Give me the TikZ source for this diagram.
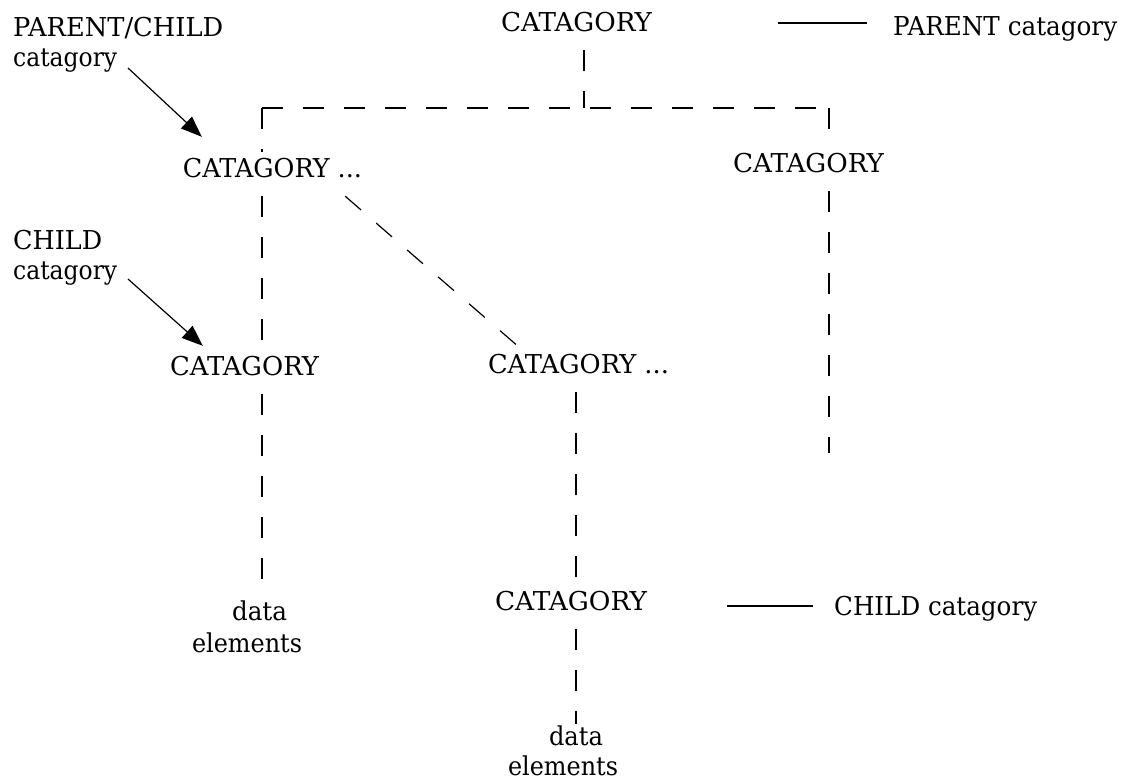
\documentclass[tikz,border=0pt]{standalone}
\usepackage{fontspec}
\setmainfont{DejaVu Serif}
\usetikzlibrary{arrows.meta}
\newcommand{\fw}[2]{\resizebox{#1pt}{\height}{#2}}
\begin{document}
\begin{tikzpicture}[x=1pt,y=-1pt, font=\fontsize{26}{30}\selectfont,
 lbl/.style={inner xsep=0pt, inner ysep=6pt, text height=19pt, text depth=13pt, anchor=base},
 txt/.style={inner sep=0pt, anchor=base west},
 dat/.style={inner sep=0pt, anchor=base},
 dl/.style={line width=1.2pt, dash pattern=on 21pt off 20pt},
 leg/.style={line width=1.2pt},
 arr/.style={line width=1.2pt, -{Triangle[length=21pt,width=16pt]}}]
\useasboundingbox[fill=white] (0,0) rectangle (1124,780);
% nodes
\node[lbl] (T) at (576.5,31) {\fw{151}{CATAGORY}};
\node[txt] (P) at (893,35) {\fw{224}{PARENT catagory}};
\node[txt] (PC) at (13,36) {\begin{tabular}[t]{@{}l@{}}\fw{210}{PARENT/CHILD}\\\fw{104}{catagory}\end{tabular}};
\node[lbl] (A) at (272.5,177) {\fw{179}{CATAGORY ...}};
\node[lbl] (R) at (808.5,172) {\fw{151}{CATAGORY}};
\node[txt] (CC) at (13,249) {\begin{tabular}[t]{@{}l@{}}\fw{89}{CHILD}\\\fw{104}{catagory}\end{tabular}};
\node[lbl] (C) at (244.5,375) {\fw{149}{CATAGORY}};
\node[lbl] (M) at (578.5,373) {\fw{181}{CATAGORY ...}};
\node[lbl] (B) at (571,610) {\fw{152}{CATAGORY}};
\node[txt] (CL) at (834,615) {\fw{203}{CHILD catagory}};
\node[dat] (D1) at (247,620) {\begin{tabular}[t]{@{}c@{}}\hspace*{25pt}\fw{55}{data}\\[2pt]\fw{110}{elements}\end{tabular}};
\node[dat] (D2) at (563,745) {\begin{tabular}[t]{@{}c@{}}\hspace*{26pt}\fw{54}{data}\\\fw{110}{elements}\end{tabular}};
% coordinates
\coordinate (jL) at (262,108);
\coordinate (jT) at (584,108);
\coordinate (jR) at (829,108);
\coordinate (eR) at (829,453);
\coordinate (xM) at (576,390);
\coordinate (lg1) at (778,23);
\coordinate (lg2) at (727,606);
\coordinate (a1) at (128,68);
\coordinate (a2) at (128,279);
% dashed connectors
\draw[dl] (T.south -| jT) -- (jT);
\draw[dl] (jL) -- (jR);
\draw[dl] (jL) -- (A.north -| jL);
\draw[dl] (A.south -| jL) -- (C.north -| jL);
\draw[dl] (C.south -| jL) -- (D1.north -| jL);
\draw[dl] (jR) -- (R.north -| jR);
\draw[dl] (R.south -| jR) -- (eR);
\draw[dl] ([xshift=-17pt]A.south east) -- ([xshift=32pt]M.north west);
\draw[dl] (M.south -| xM) -- (B.north -| xM);
\draw[dl] (B.south -| xM) -- (D2.north -| xM);
% legend lines
\draw[leg, shorten >=26pt] (lg1) -- (lg1 -| P.west);
\draw[leg, shorten >=21pt] (lg2) -- (lg2 -| CL.west);
% arrows
\draw[arr] (a1) -- ([shift={(19,-15)}]A.north west);
\draw[arr] (a2) -- ([shift={(33,-4)}]C.north west);
\end{tikzpicture}
\end{document}
